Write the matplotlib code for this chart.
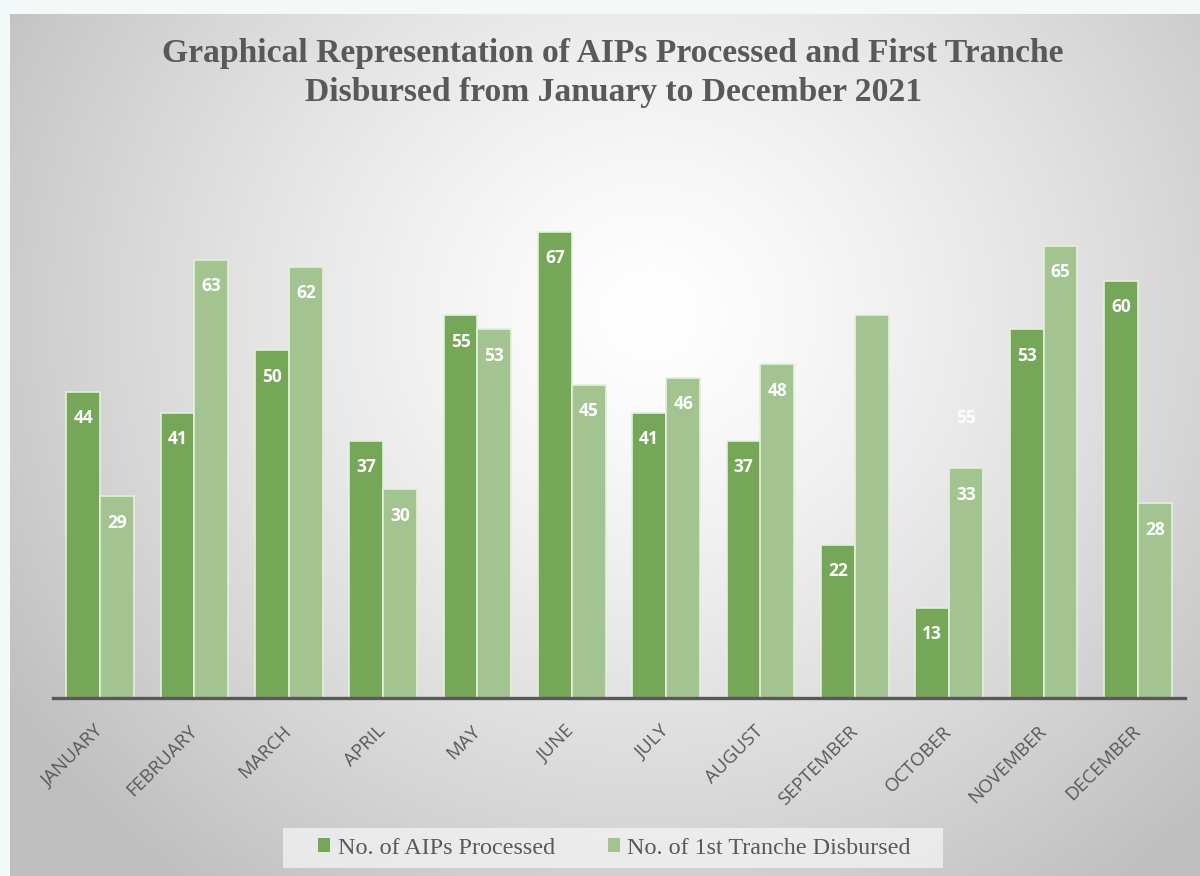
import numpy as np
import matplotlib
matplotlib.use("Agg")
import matplotlib.pyplot as plt
from matplotlib.patches import Patch, Rectangle

months = ["JANUARY", "FEBRUARY", "MARCH", "APRIL", "MAY", "JUNE", "JULY",
          "AUGUST", "SEPTEMBER", "OCTOBER", "NOVEMBER", "DECEMBER"]
aips_processed = [44, 41, 50, 37, 55, 67, 41, 37, 22, 13, 53, 60]
tranche_disbursed = [29, 63, 62, 30, 53, 45, 46, 48, 55, 33, 65, 28]
series_names = ["No. of AIPs Processed", "No. of 1st Tranche Disbursed"]
title = "Graphical Representation of AIPs Processed and First Tranche\nDisbursed from January to December 2021"

W, H = 1200, 876
fig = plt.figure(figsize=(W / 100, H / 100), dpi=100)
fig.patch.set_facecolor("#f2f9f8")

# Background gradient panel
bg = fig.add_axes([10 / W, 0, 1 - 10 / W, 1 - 14 / H])
bg.set_axis_off()
yy, xx = np.mgrid[0:862, 0:1190]
cx, cy = 640, 300
r = np.sqrt(((xx - cx) / 1.0) ** 2 + ((yy - cy) / 0.95) ** 2)
t = np.clip(r / 760, 0, 1) ** 1.3
val = 1.0 - t * (1.0 - 0.75)
img = np.dstack([val, val, val])
bg.imshow(img, extent=[0, 1, 0, 1], aspect="auto", origin="upper", zorder=0)
bg.set_xlim(0, 1)
bg.set_ylim(0, 1)

ax = fig.add_axes([53 / W, 1 - 698 / H, (1185 - 53) / W, 486.9 / H])
ax.patch.set_alpha(0)
x = np.arange(len(months))
bw = 0.36
dark = "#76a658"
light = "#a3c491"
edge = "#e4f0dc"
ax.bar(x - bw / 2, aips_processed, bw, color=dark, edgecolor=edge, linewidth=1.2, zorder=2)
ax.bar(x + bw / 2, tranche_disbursed, bw, color=light, edgecolor=edge, linewidth=1.2, zorder=2)
ax.set_xlim(-0.5, len(months) - 0.5)
ax.set_ylim(0, 70)

lab_font = dict(color="white", fontsize=12.5, fontweight="bold", family="Open Sans",
                ha="center", va="center", zorder=3)
for xi, v in zip(x - bw / 2, aips_processed):
    ax.annotate(str(v), (xi, v), xytext=(0, -19), textcoords="offset points", **lab_font)
for i, (xi, v) in enumerate(zip(x + bw / 2, tranche_disbursed)):
    if months[i] == "SEPTEMBER":
        # label displaced over the October bars in the original
        ax.annotate(str(v), (x[i + 1] + bw / 2, tranche_disbursed[i + 1]), xytext=(0, 36),
                    textcoords="offset points", alpha=0.85, **lab_font)
        continue
    ax.annotate(str(v), (xi, v), xytext=(0, -19), textcoords="offset points", **lab_font)

for s in ["top", "right", "left"]:
    ax.spines[s].set_visible(False)
ax.spines["bottom"].set_color("#595959")
ax.spines["bottom"].set_linewidth(2.4)
ax.set_yticks([])
ax.set_xticks(x)
ax.set_xticklabels(months, rotation=45, ha="right", va="center", rotation_mode="anchor",
                   fontsize=13.5, color="#595959", family="Open Sans")
ax.tick_params(axis="x", length=0, pad=22)

fig.text(0.511, 1 - 73 / H, title, ha="center", va="center", fontsize=24.2,
         fontweight="bold", color="#595959", family="Liberation Serif", linespacing=1.32)

# Legend box
fig.add_artist(Rectangle((283 / W, 1 - 868 / H), (943 - 283) / W, 40 / H,
                         transform=fig.transFigure, facecolor="#f4f4f4", alpha=0.75,
                         edgecolor="none", zorder=1))
handles = [Patch(facecolor=dark, edgecolor="none"), Patch(facecolor=light, edgecolor="none")]
leg = fig.legend(handles, series_names, loc="center", bbox_to_anchor=(0.512, 1 - 848 / H),
                 ncol=2, frameon=False,
                 prop={"family": "Liberation Serif", "size": 17.4},
                 labelcolor="#595959", handlelength=0.5, handleheight=0.5, handletextpad=0.3,
                 columnspacing=2.2, borderpad=0.3)

fig.savefig("out.png", dpi=100)
